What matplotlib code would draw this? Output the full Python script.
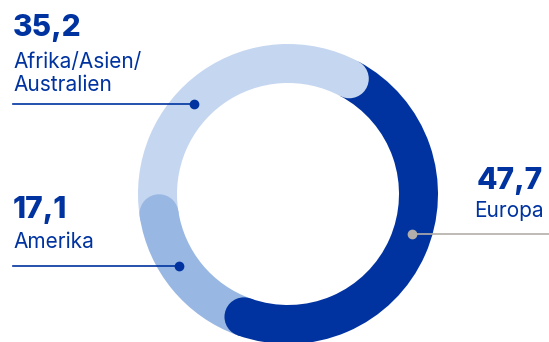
import numpy as np
import matplotlib
matplotlib.use("Agg")
from matplotlib import pyplot as plt
from matplotlib.patches import Circle

# Daten (Anteile in %)
regionen = ["Europa", "Amerika", "Afrika/Asien/\nAustralien"]
anteile = [47.7, 17.1, 35.2]
farben = ["#0033a0", "#99b7e3", "#c5d6f0"]

blau = "#0033a0"
grau = "#b3aea9"
plt.rcParams["font.family"] = ["Inter", "DejaVu Sans"]

fig = plt.figure(figsize=(5.49, 3.42), dpi=100)
ax = fig.add_axes([0, 0, 1, 1])

# Ring in Pixelkoordinaten
cx, cy = 288, 148
r_aussen = 150
breite = 39
r_mitte = r_aussen - breite / 2

wedges, _ = ax.pie(anteile, colors=farben, startangle=62, counterclock=False,
                   radius=r_aussen, center=(cx, cy),
                   wedgeprops=dict(width=breite, linewidth=0))

# runde Enden: Ende jedes Segments liegt über dem Anfang des nächsten
for w, farbe in zip(wedges, farben):
    ende = np.deg2rad(w.theta1)  # bei counterclock=False ist theta1 das Ende im Uhrzeigersinn
    ax.add_patch(Circle((cx + r_mitte * np.cos(ende), cy + r_mitte * np.sin(ende)),
                        breite / 2, color=farbe, lw=0, zorder=3))

ax.set_xlim(0, 549)
ax.set_ylim(0, 342)
ax.set_aspect("equal")
ax.axis("off")


def fmt(v):
    return f"{v:.1f}".replace(".", ",")


def punkt_x(y, links=True):
    dx = np.sqrt(r_mitte ** 2 - (y - cy) ** 2)
    return cx - dx if links else cx + dx


zahl_kw = dict(fontsize=21.5, fontweight="heavy", color=blau, va="baseline")
text_kw = dict(fontsize=15, color=blau, va="baseline", linespacing=1.2)

# Afrika/Asien/Australien
ax.text(13, 306, fmt(anteile[2]), ha="left", **zahl_kw)
ax.text(13, 251, regionen[2], ha="left", **text_kw)
y = 238
px = punkt_x(y)
ax.plot([13, px], [y, y], color=blau, lw=1.2, zorder=4)
ax.plot(px, y, "o", color=blau, ms=6, zorder=5)

# Amerika
ax.text(13, 124, fmt(anteile[1]), ha="left", **zahl_kw)
ax.text(13, 94, regionen[1], ha="left", **text_kw)
y = 76
px = punkt_x(y)
ax.plot([13, px], [y, y], color=blau, lw=1.2, zorder=4)
ax.plot(px, y, "o", color=blau, ms=6, zorder=5)

# Europa
ax.text(543, 153, fmt(anteile[0]), ha="right", **zahl_kw)
ax.text(544, 125, regionen[0], ha="right", **text_kw)
y = 108
px = punkt_x(y, links=False)
ax.plot([px, 549], [y, y], color=grau, lw=1.2, zorder=4)
ax.plot(px, y, "o", color=grau, ms=6, zorder=5)

fig.savefig("out.png", dpi=100)
